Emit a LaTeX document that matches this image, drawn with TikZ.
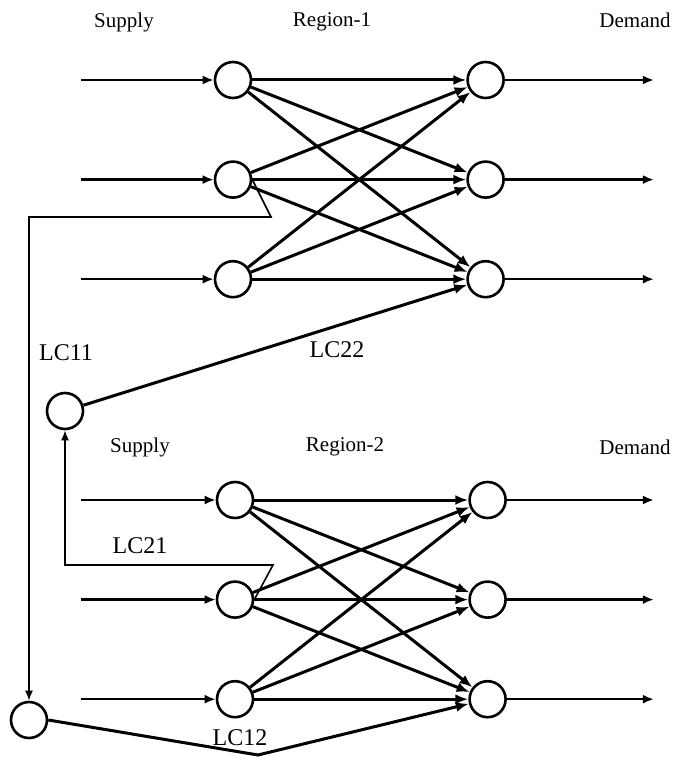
\documentclass[tikz,border=0pt]{standalone}
\usepackage{fontspec}
\setmainfont{Liberation Serif}
\usetikzlibrary{arrows.meta, positioning}

\begin{document}
\begin{tikzpicture}[
    x=1pt, y=-1pt,
    node distance=61pt and 214pt,
    % Estilo para nodos
    nodo/.style={
            circle,
            draw=black,
            line width=2.6pt,
            minimum size=36pt,
            inner sep=0pt
        },
    % Estilo para etiquetas
    etiqueta/.style={
            font=\fontsize{21}{25}\selectfont,
            inner sep=0pt
        },
    % Etiquetas de enlace
    enlace/.style={
            font=\fontsize{24}{28}\selectfont,
            inner sep=0pt
        },
    % Flechas
    arrow/.style={
    -{Latex[length=11pt,width=9pt]},
    line width=2.4pt,
    color=black
    },
    thickarrow/.style={
    -{Latex[length=13pt,width=10pt]},
    line width=3pt,
    color=black
    },
    thinarrow/.style={
    -{Latex[length=10pt,width=8pt]},
    line width=1.6pt,
    color=black
    }
    ]

    \useasboundingbox (0,0) rectangle (678,757);

    % ========== REGIÓN 1 ==========
    \node[nodo] (s11) at (233,80) {};
    \node[nodo, below=of s11] (s12) {};
    \node[nodo, below=of s12] (s13) {};
    \node[nodo, right=of s11] (d11) {};
    \node[nodo, right=of s12] (d12) {};
    \node[nodo, right=of s13] (d13) {};

    % Entradas y salidas
    \coordinate[left=133pt of s11] (in11);
    \coordinate[left=133pt of s12] (in12);
    \coordinate[left=133pt of s13] (in13);
    \coordinate[right=149pt of d11] (out11);
    \coordinate[right=149pt of d12] (out12);
    \coordinate[right=149pt of d13] (out13);

    % Títulos
    \node[etiqueta] (sup1) at (124,22) {Supply};
    \node[etiqueta] (reg1) at (332,22) {Region-1};
    \node[etiqueta] (dem1) at (635,20) {Demand};

    % ========== REGIÓN 2 ==========
    \node[nodo] (s21) at (235,500) {};
    \node[nodo, below=of s21] (s22) {};
    \node[nodo, below=of s22] (s23) {};
    \node[nodo, right=of s21] (d21) {};
    \node[nodo, right=of s22] (d22) {};
    \node[nodo, right=of s23] (d23) {};

    % Entradas y salidas
    \coordinate[left=135pt of s21] (in21);
    \coordinate[left=135pt of s22] (in22);
    \coordinate[left=135pt of s23] (in23);
    \coordinate[right=147pt of d21] (out21);
    \coordinate[right=147pt of d22] (out22);
    \coordinate[right=147pt of d23] (out23);

    % Títulos
    \node[etiqueta] (sup2) at (140,447) {Supply};
    \node[etiqueta] (reg2) at (345,447) {Region-2};
    \node[etiqueta] (dem2) at (635,447) {Demand};

    % ========== NODOS DE ENLACE ==========
    \node[nodo] (lc1) at (65,411) {};
    \node[nodo] (lc2) at (29,720) {};
    \coordinate (k1) at (271,217);
    \coordinate (k2) at (273,565);
    \coordinate (k3) at (258,755);

    \node[enlace] (t11) at (66,353) {LC11};
    \node[enlace] (t22) at (337,350) {LC22};
    \node[enlace] (t21) at (140,546) {LC21};
    \node[enlace] (t12) at (240,738) {LC12};

    % ========== FLECHAS ==========
    % Oferta y demanda, región 1
    \draw[arrow] (in11) -- (s11.west);
    \draw[arrow] (in12) -- (s12.west);
    \draw[arrow] (in13) -- (s13.west);
    \draw[arrow] (d11.east) -- (out11);
    \draw[arrow] (d12.east) -- (out12);
    \draw[arrow] (d13.east) -- (out13);

    % Red completa, región 1
    \draw[thickarrow] (s11) -- (d11);
    \draw[thickarrow] (s11) -- (d12);
    \draw[thickarrow] (s11) -- (d13);
    \draw[thickarrow] (s12) -- (d11);
    \draw[thickarrow] (s12) -- (d12);
    \draw[thickarrow] (s12) -- (d13);
    \draw[thickarrow] (s13) -- (d11);
    \draw[thickarrow] (s13) -- (d12);
    \draw[thickarrow] (s13) -- (d13);

    % Oferta y demanda, región 2
    \draw[arrow] (in21) -- (s21.west);
    \draw[arrow] (in22) -- (s22.west);
    \draw[arrow] (in23) -- (s23.west);
    \draw[arrow] (d21.east) -- (out21);
    \draw[arrow] (d22.east) -- (out22);
    \draw[arrow] (d23.east) -- (out23);

    % Red completa, región 2
    \draw[thickarrow] (s21) -- (d21);
    \draw[thickarrow] (s21) -- (d22);
    \draw[thickarrow] (s21) -- (d23);
    \draw[thickarrow] (s22) -- (d21);
    \draw[thickarrow] (s22) -- (d22);
    \draw[thickarrow] (s22) -- (d23);
    \draw[thickarrow] (s23) -- (d21);
    \draw[thickarrow] (s23) -- (d22);
    \draw[thickarrow] (s23) -- (d23);

    % Enlaces entre regiones
    \draw[thinarrow] (s12.east) -- (k1) -| (lc2.north);
    \draw[thinarrow] (s22.east) -- (k2) -| (lc1.south);
    \draw[thickarrow] (lc1) -- (d13);
    \draw[thickarrow] (lc2.east) -- (k3) -- (d23);

\end{tikzpicture}
\end{document}
